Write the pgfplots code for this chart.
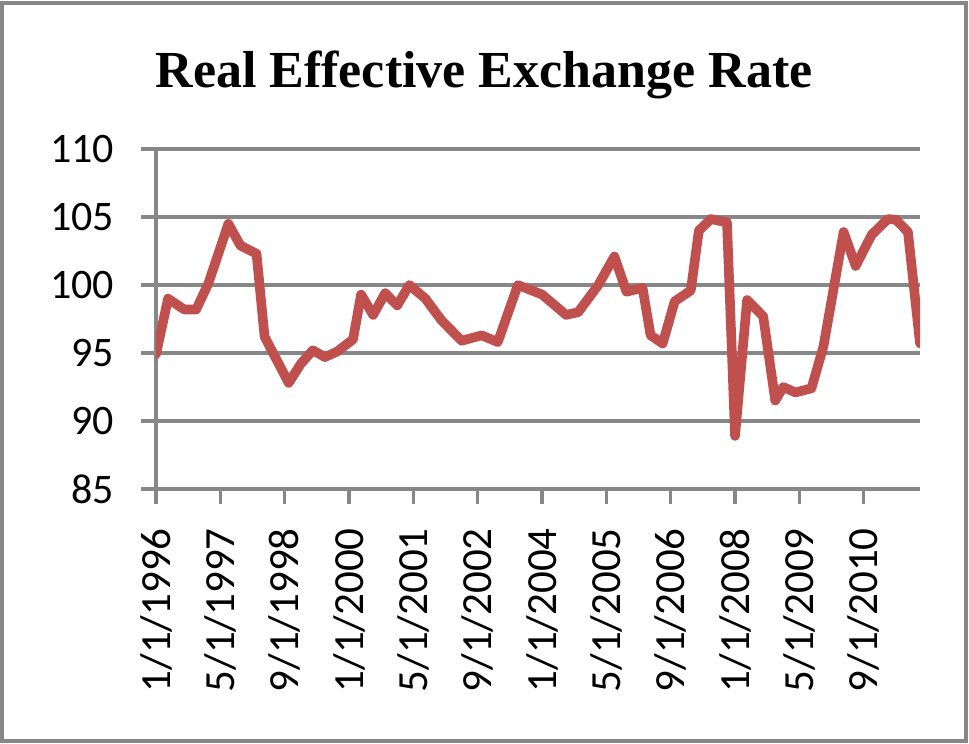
\documentclass[border=0pt]{standalone}
\usepackage{pgfplots}
\pgfplotsset{compat=1.18}
\usepackage{fontspec}
\setmainfont{Carlito}
\newfontfamily\titlefont{Liberation Serif}
\definecolor{excelred}{HTML}{C0504D}
\definecolor{axgray}{HTML}{878787}

\begin{document}
\begin{tikzpicture}
  \useasboundingbox (-78pt,-127.5pt) rectangle (406.5pt,244.5pt);
  \draw[axgray, line width=2pt] (-77pt,-126pt) rectangle (405pt,243pt);
  \node[anchor=base, font=\titlefont\bfseries\fontsize{26}{31}\selectfont]
    at (164pt,200.5pt) {Real Effective Exchange Rate};
  \begin{axis}[
    at={(0,0)}, anchor=south west,
    scale only axis, width=382pt, height=170pt,
    xmin=0, xmax=190, ymin=85, ymax=110,
    axis x line=bottom, axis y line=left,
    axis line style={-, axgray, line width=1.6pt},
    xtick={0,16,...,176},
    xticklabels={1/1/1996,5/1/1997,9/1/1998,1/1/2000,5/1/2001,9/1/2002,
                 1/1/2004,5/1/2005,9/1/2006,1/1/2008,5/1/2009,9/1/2010},
    ytick={85,90,...,110},
    tick align=outside, major tick length=7.5pt,
    tick style={axgray, line width=1.6pt},
    ymajorgrids, major grid style={axgray, line width=1.6pt},
    /pgf/number format/assume math mode=true,
    xticklabel style={rotate=90, anchor=east, inner xsep=12pt,
                      font=\fontsize{21.5}{25}\selectfont},
    yticklabel style={xshift=-10pt, font=\fontsize{21}{25}\selectfont},
    ]
    \addplot[excelred, line width=4.8pt, line join=round, line cap=round] coordinates {
      (0,94.9) (3,99.0) (7,98.2) (10,98.2) (13,100.1) (18,104.5)
      (21,102.9) (25,102.3) (27,96.2) (33,92.8) (36,94.2) (39,95.2)
      (42,94.7) (45,95.1) (49,96.0) (51,99.3) (54,97.8) (57,99.4)
      (60,98.5) (63,100.0) (67,99.0) (71,97.4) (76,95.9) (81,96.3)
      (85,95.8) (90,100.0) (96,99.3) (102,97.8) (105,98.0) (110,100.0)
      (114,102.1) (117,99.5) (121,99.8) (123,96.3) (126,95.7) (129,98.8)
      (133,99.6) (135,104.0) (138,104.85) (142,104.6) (144,88.9) (147,98.9)
      (151,97.7) (154,91.5) (156,92.5) (159,92.1) (163,92.4) (166,95.5)
      (171,103.9) (174,101.4) (178,103.7) (182,104.85) (184,104.8) (187,103.9)
      (190,95.7)
    };
  \end{axis}
\end{tikzpicture}
\end{document}
